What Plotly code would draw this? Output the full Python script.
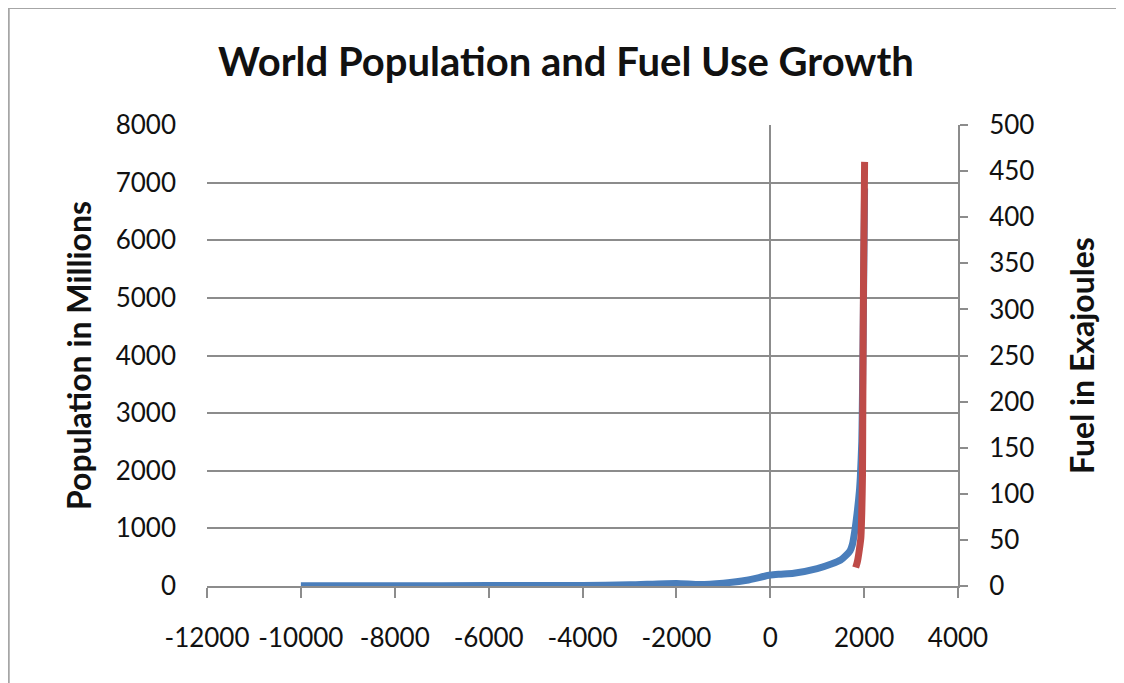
import plotly.graph_objects as go

# population (millions) by year
pop_years = [-10000, -8000, -6000, -4000, -3000, -2000, -1500, -1000, -500, 0, 200, 500,
             1000, 1300, 1500, 1600, 1700, 1750, 1800, 1850, 1900, 1920, 1950, 1960,
             1970, 1980, 1990, 2000, 2010]
population = [4, 5, 7, 10, 20, 45, 25, 50, 100, 190, 205, 220,
              300, 380, 450, 520, 610, 720, 950, 1260, 1650, 1900, 2500, 3000,
              3700, 4400, 5300, 6100, 6900]

# fuel use (exajoules) by year
fuel_years = [1820, 1850, 1870, 1900, 1930, 1950, 1965, 1970, 1980, 1990, 2000, 2010]
fuel = [20, 25, 30, 40, 52, 80, 120, 175, 275, 350, 400, 460]

x_ticks = [-12000, -10000, -8000, -6000, -4000, -2000, 0, 2000, 4000]
x_labels = ["-12000", "-10000", "-8000", "-6000", "-4000", "-2000", "0", "2000", "4000"]

grid = "#8c8c8c"
font = "Lato"

fig = go.Figure()
fig.add_trace(go.Scatter(x=pop_years, y=population, mode="lines", name="Population",
                         line=dict(color="#4a7ebb", width=7, shape="spline", smoothing=0.6)))
fig.add_trace(go.Scatter(x=fuel_years, y=fuel, mode="lines", name="Fuel", yaxis="y2",
                         line=dict(color="#be4b48", width=7, shape="spline", smoothing=0.6)))

fig.update_layout(
    width=1116, height=675,
    margin=dict(l=199, r=166, t=117, b=97),
    paper_bgcolor="white", plot_bgcolor="white",
    showlegend=False,
    font=dict(family=font, color="#111111", size=26),
    title=dict(text="<b>World Population and Fuel Use Growth</b>",
               x=0.5, xanchor="center", y=0.92, yanchor="middle",
               font=dict(family=font, size=40, color="#111111")),
    xaxis=dict(range=[-12000, 4000], tickvals=x_ticks, ticktext=x_labels, showgrid=False,
               zeroline=True, zerolinecolor=grid, zerolinewidth=2,
               showline=True, linecolor=grid, linewidth=2,
               ticks="outside", ticklen=10, tickcolor=grid, tickwidth=2,
               ticklabelstandoff=18, tickfont=dict(size=26)),
    yaxis=dict(range=[0, 8000], dtick=1000, showgrid=True, gridcolor=grid, gridwidth=2,
               zeroline=False, showline=False, ticks="", ticklabelstandoff=30,
               title=dict(text="<b>Population in Millions</b>", standoff=14,
                          font=dict(size=32))),
    yaxis2=dict(range=[0, 500], dtick=50, overlaying="y", side="right",
                showgrid=False, zeroline=False, showline=True, linecolor=grid, linewidth=2,
                ticks="outside", ticklen=8, tickcolor=grid, tickwidth=2,
                ticklabelstandoff=16,
                title=dict(text="<b>Fuel in Exajoules</b>", standoff=38,
                           font=dict(size=32))),
)

# outer frame of the pasted chart
fig.add_shape(type="line", xref="paper", yref="paper", x0=-0.264, x1=-0.264, y0=1.254, y1=-0.3,
              line=dict(color="#a6a6a6", width=2))
fig.add_shape(type="line", xref="paper", yref="paper", x0=-0.264, x1=1.3, y0=1.254, y1=1.254,
              line=dict(color="#a6a6a6", width=2))

fig.write_html("out.html", post_script="document.body.style.overflow='hidden';")
